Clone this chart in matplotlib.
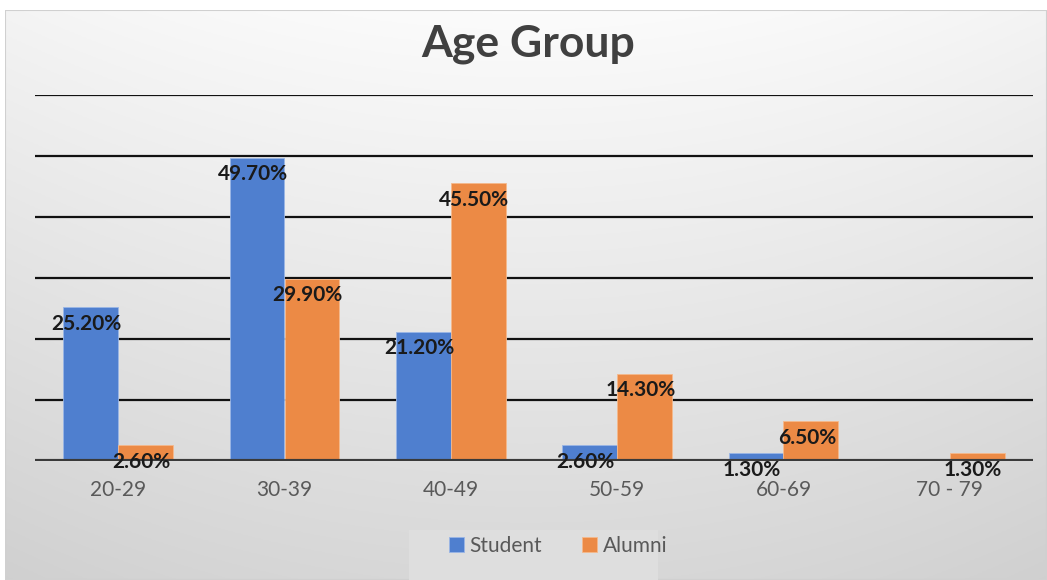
import numpy as np
import matplotlib.pyplot as plt
from matplotlib.patches import Rectangle

groups = ['20-29', '30-39', '40-49', '50-59', '60-69', '70 - 79']
student = [25.2, 49.7, 21.2, 2.6, 1.3, 0.0]
alumni = [2.6, 29.9, 45.5, 14.3, 6.5, 1.3]

blue = '#4f7fcf'
orange = '#ec8a45'

plt.rcParams['font.family'] = ['Lato', 'DejaVu Sans']

fig = plt.figure(figsize=(10.47, 5.8), dpi=100)
fig.patch.set_facecolor('white')

# gradient background of the chart area
bg = fig.add_axes([5 / 1047, 0, 1 - 5 / 1047, 1 - 10 / 580], zorder=0)
grad = np.linspace(0, 1, 256).reshape(-1, 1)
xs = np.linspace(-1, 1, 256).reshape(1, -1)
val = 0.985 - 0.14 * grad - 0.03 * xs ** 2
val = np.clip(val, 0, 1)
bg.imshow(np.dstack([val, val, val]), aspect='auto', extent=(0, 1, 0, 1), origin='upper')
bg.add_patch(Rectangle((0, 0), 1, 1, fill=False, edgecolor='#d0d0d0', lw=1.5))
bg.axis('off')

# legend box (clipped on the right like the original)
fig.patches.append(Rectangle((409 / 1047, 0), (658 - 409) / 1047, 50 / 580,
                             transform=fig.transFigure, facecolor='#dedede',
                             edgecolor='none', zorder=1))

ax = fig.add_axes([35 / 1047, 1 - 461 / 580, (1033 - 35) / 1047, (461 - 95) / 580], zorder=1)
ax.patch.set_alpha(0)

x = np.arange(len(groups))
w = 0.33
b1 = ax.bar(x - w / 2, student, w, color=blue, edgecolor='#9ab6e6', lw=0.6, zorder=3, label='Student')
b2 = ax.bar(x + w / 2, alumni, w, color=orange, edgecolor='#f5b98c', lw=0.6, zorder=3, label='Alumni')

lab = dict(ha='center', va='center', fontsize=15, fontweight='bold', color='#1a1a1a',
           zorder=5, textcoords='offset points', annotation_clip=False)
for i, v in enumerate(student):
    if v > 0:
        ax.annotate(f'{v:.2f}%', (x[i] - w / 2, v), xytext=(-3, -12), **lab)
for i, v in enumerate(alumni):
    ax.annotate(f'{v:.2f}%', (x[i] + w / 2, v), xytext=(-3, -12), **lab)

ax.set_ylim(0, 60)
ax.set_xlim(-0.5, len(groups) - 0.5)
ax.set_yticks(np.arange(0, 61, 10))
ax.yaxis.grid(True, color='#111111', lw=1.6, zorder=1)
ax.axhline(0, color='#3a3a3a', lw=3, zorder=4)
ax.tick_params(axis='y', left=False, labelleft=False)
ax.tick_params(axis='x', length=0, labelsize=15, labelcolor='#595959', pad=14)
ax.set_xticks(x)
ax.set_xticklabels(groups)
for s in ax.spines.values():
    s.set_visible(False)

fig.text(528 / 1047, 1 - 44 / 580, 'Age Group', ha='center', va='center', fontsize=32,
         fontweight='bold', color='#404040')

leg = fig.legend(handles=[b1, b2], loc='center left', bbox_to_anchor=(430 / 1047, 1 - 546 / 580),
                 ncol=2, frameon=False, fontsize=15, handlelength=0.75, handleheight=0.75,
                 columnspacing=1.9, handletextpad=0.25)
for t in leg.get_texts():
    t.set_color('#595959')

fig.savefig('out.png', dpi=100)
